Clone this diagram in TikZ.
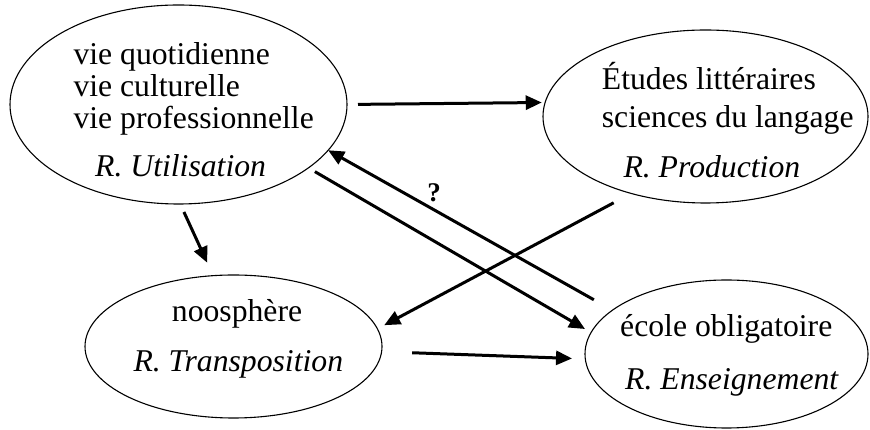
\documentclass[tikz,border=0pt]{standalone}
\usepackage{fontspec}
\setmainfont{Liberation Serif}
\usetikzlibrary{arrows.meta,shapes.geometric}
\begin{document}
\begin{tikzpicture}[x=1pt,y=1pt,
  sphere/.style={draw, ellipse, line width=1.1pt, inner sep=0pt, outer sep=0pt},
  txt/.style={anchor=base west, inner sep=0pt, font=\fontsize{31.7}{32}\selectfont},
  itxt/.style={txt, font=\fontsize{31.7}{32}\selectfont\itshape},
  qmark/.style={inner sep=0pt, font=\fontsize{27}{28}\selectfont\bfseries},
  arr/.style={line width=3pt, -{Triangle[length=16pt,width=14pt]}}]
\useasboundingbox (0,0) rectangle (870,430);

% the four spheres
\node[sphere, minimum width=337pt, minimum height=199pt] (u) at (178.5,325.5) {};
\node[sphere, minimum width=325pt, minimum height=173pt] (p) at (705.5,313.5) {};
\node[sphere, minimum width=297pt, minimum height=143pt] (t) at (233.5,83.5) {};
\node[sphere, minimum width=283pt, minimum height=148pt] (e) at (726.5,76) {};

% texts inside the spheres
\node[txt] (u1) at (73.3,365) {vie quotidienne};
\node[txt] (u2) at (73.3,333.3) {vie culturelle};
\node[txt] (u3) at (73.3,301.7) {vie professionnelle};
\node[itxt] (u4) at (95,253.3) {R. Utilisation};

\node[txt] (p1) at (601.7,340) {Études littéraires};
\node[txt] (p2) at (601.7,302.7) {sciences du langage};
\node[itxt] (p3) at (623.3,252.7) {R. Production};

\node[txt] (t1) at (171.7,108.3) {noosphère};
\node[itxt] (t2) at (133.3,58.3) {R. Transposition};

\node[txt] (e1) at (620,93.3) {école obligatoire};
\node[itxt] (e2) at (625,40) {R. Enseignement};

% connectors
\draw[arr, shorten <=11pt, shorten >=3.4pt] (u.-0.2) -- (p.175.9);
\draw[arr, shorten <=8.8pt, shorten >=14.2pt] (u.-89.6) -- (t.106.1);
\draw[arr, shorten <=21.3pt] (e.159.9) -- (u.-17.4);
\draw[arr, shorten <=7.5pt, shorten >=7pt] (u.-26.8) -- (e.171.9);
\draw[arr, shorten <=19.9pt, shorten >=7.7pt] (p.226.75) -- (t.7.98);
\draw[arr, shorten <=30.6pt, shorten >=13.3pt] (t.-2.5) -- (e.182.2);

\node[qmark] (q) at (434,237) {?};
\end{tikzpicture}
\end{document}
